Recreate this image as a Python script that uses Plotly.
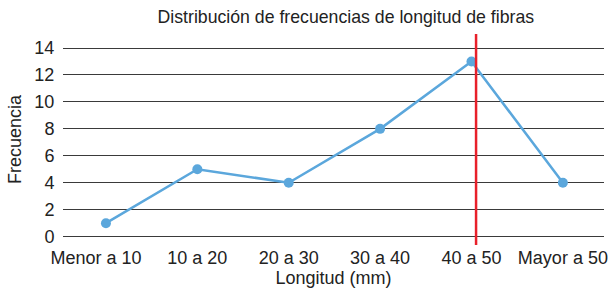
import plotly.graph_objects as go

categorias = ["Menor a 10", "10 a 20", "20 a 30", "30 a 40", "40 a 50", "Mayor a 50"]
frecuencias = [1, 5, 4, 8, 13, 4]
y_ticks = [0, 2, 4, 6, 8, 10, 12, 14]
linea_roja_x = 4.05

FONT = "Liberation Sans, Arial, sans-serif"

# first label sits slightly left of its point in the reference
etiquetas = [categorias[0] + "\u00a0" * 4] + categorias[1:]

fig = go.Figure()
fig.add_trace(go.Scatter(
    x=list(range(len(categorias))), y=frecuencias,
    mode="lines+markers",
    line=dict(color="#5BA7DC", width=2.5),
    marker=dict(color="#5BA7DC", size=10),
    showlegend=False,
))

fig.add_shape(type="line", xref="x", yref="paper",
              x0=linea_roja_x, x1=linea_roja_x, y0=0, y1=1,
              line=dict(color="#E8202A", width=2.5), layer="above")

fig.update_layout(
    width=611, height=289,
    margin=dict(l=63, r=7, t=34, b=44),
    paper_bgcolor="white", plot_bgcolor="white",
    font=dict(family=FONT, size=18, color="#222"),
    title=dict(text="Distribución de frecuencias de longitud de fibras",
               x=0.566, xanchor="center", y=0.941, yanchor="middle",
               font=dict(size=17.7, color="#222")),
    xaxis=dict(
        tickmode="array", tickvals=list(range(len(categorias))), ticktext=etiquetas,
        range=[-0.47, 5.45], showgrid=False, zeroline=False, showline=False,
        ticks="", automargin=False,
        title=dict(text="Longitud (mm)", standoff=2, font=dict(size=18)),
    ),
    yaxis=dict(
        tickmode="array", tickvals=y_ticks,
        range=[-0.62, 15.04], showgrid=True, gridcolor="#3a3a3a", gridwidth=1.4,
        zeroline=False, showline=False, automargin=False,
        ticks="outside", ticklen=4, tickcolor="rgba(0,0,0,0)",
        title=dict(text="Frecuencia", standoff=8, font=dict(size=18)),
    ),
)

fig.write_html("out.html", config={"displayModeBar": False},
               post_script="document.body.style.margin='0';")
